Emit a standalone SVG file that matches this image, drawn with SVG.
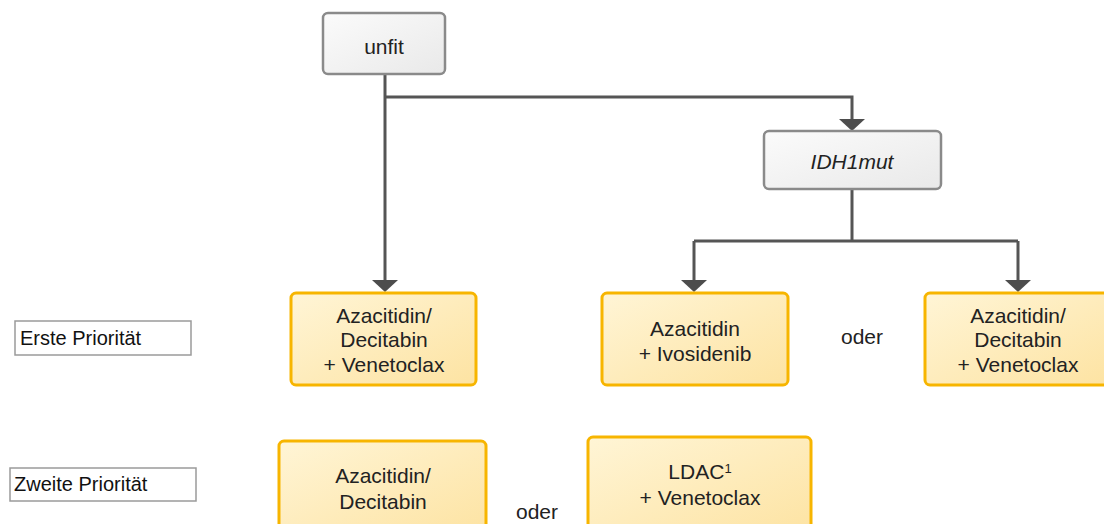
<svg xmlns="http://www.w3.org/2000/svg" width="1104" height="524" viewBox="0 0 1104 524">
  <style>
    .t{font-family:"Liberation Sans",Arial,sans-serif;font-size:21px;fill:#222;text-anchor:middle}
    .lbl{font-family:"Liberation Sans",Arial,sans-serif;font-size:20px;fill:#111}
    .gray{fill:url(#gg);stroke:#8a8a8a;stroke-width:2.5}
    .yel{fill:url(#yg);stroke:#f7b500;stroke-width:3}
    .lb{fill:#fff;stroke:#9a9a9a;stroke-width:1.5}
    .c{fill:none;stroke:#555;stroke-width:3}
    .ah{fill:#4d4d4d}
  </style>
  <defs>
    <linearGradient id="gg" x1="0" y1="0" x2="1" y2="1">
      <stop offset="0" stop-color="#fbfbfb"/>
      <stop offset="1" stop-color="#e9e9e9"/>
    </linearGradient>
    <linearGradient id="yg" x1="0" y1="0" x2="1" y2="1">
      <stop offset="0" stop-color="#fff5d6"/>
      <stop offset="1" stop-color="#fde3a2"/>
    </linearGradient>
  </defs>

  <g id="connectors">
    <path class="c" d="M385 74 V280"/>
    <path class="c" d="M385 97 H852 V119"/>
    <path class="c" d="M852 189 V241"/>
    <path class="c" d="M694 241 H1018"/>
    <path class="c" d="M694 241 V280"/>
    <path class="c" d="M1018 241 V280"/>
    <polygon class="ah" points="372,280 398,280 385,292"/>
    <polygon class="ah" points="839,119 865,119 852,131"/>
    <polygon class="ah" points="681,280 707,280 694,292"/>
    <polygon class="ah" points="1005,280 1031,280 1018,292"/>
  </g>

  <g id="node-unfit">
    <rect class="gray" x="323" y="13" width="122" height="61" rx="5"/>
    <text class="t" x="384" y="54">unfit</text>
  </g>

  <g id="node-idh1mut">
    <rect class="gray" x="764" y="131" width="177" height="58" rx="5"/>
    <text class="t" x="852" y="169" font-style="italic">IDH1mut</text>
  </g>

  <g id="label-erste">
    <rect class="lb" x="15" y="321" width="176" height="34"/>
    <text class="lbl" x="20" y="345">Erste Priorität</text>
  </g>

  <g id="label-zweite">
    <rect class="lb" x="10" y="468" width="186" height="33"/>
    <text class="lbl" x="14" y="491">Zweite Priorität</text>
  </g>

  <g id="node-aza-dec-ven-1">
    <rect class="yel" x="291" y="293" width="185" height="92" rx="5"/>
    <text class="t" x="384" y="323">Azacitidin/</text>
    <text class="t" x="384" y="347">Decitabin</text>
    <text class="t" x="384" y="372">+ Venetoclax</text>
  </g>

  <g id="node-aza-ivo">
    <rect class="yel" x="602" y="293" width="186" height="92" rx="5"/>
    <text class="t" x="695" y="336">Azacitidin</text>
    <text class="t" x="695" y="361">+ Ivosidenib</text>
  </g>

  <g id="text-oder-1">
    <text class="t" x="862" y="344">oder</text>
  </g>

  <g id="node-aza-dec-ven-2">
    <rect class="yel" x="925" y="293" width="186" height="92" rx="5"/>
    <text class="t" x="1018" y="323">Azacitidin/</text>
    <text class="t" x="1018" y="347">Decitabin</text>
    <text class="t" x="1018" y="372">+ Venetoclax</text>
  </g>

  <g id="node-aza-dec">
    <rect class="yel" x="279" y="441" width="207" height="95" rx="5"/>
    <text class="t" x="383" y="483">Azacitidin/</text>
    <text class="t" x="383" y="509">Decitabin</text>
  </g>

  <g id="text-oder-2">
    <text class="t" x="537" y="519">oder</text>
  </g>

  <g id="node-ldac-ven">
    <rect class="yel" x="588" y="437" width="223" height="99" rx="5"/>
    <text class="t" x="700" y="479">LDAC<tspan font-size="13" dy="-6">1</tspan></text>
    <text class="t" x="700" y="505">+ Venetoclax</text>
  </g>
</svg>
